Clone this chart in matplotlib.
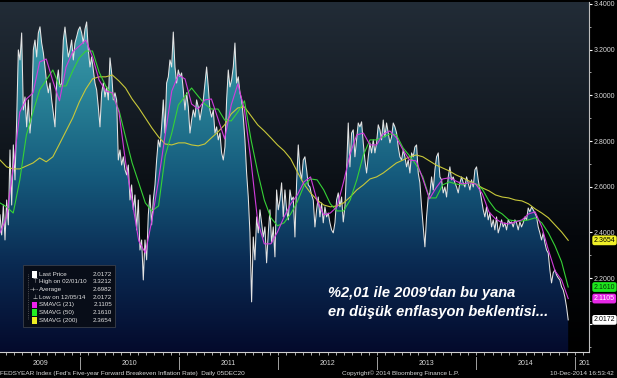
import numpy as np
import matplotlib
matplotlib.use("Agg")
import matplotlib.pyplot as plt
from matplotlib.colors import LinearSegmentedColormap
from matplotlib.patches import Polygon, Rectangle
from matplotlib.transforms import blended_transform_factory


# FEDSYEAR Index. Points are evenly spaced in time
# from mid-March 2009 to 5 Dec 2014 (decimal years).
start_year = 2009.19
end_year = 2014.93

price = [
    2.477, 2.389, 2.520, 2.367, 2.542, 2.433, 2.761, 2.520, 2.783, 2.630, 2.892,
    3.199, 3.155, 3.273, 2.936, 2.993, 2.862, 2.980, 2.835, 2.923, 3.199,
    3.242, 3.168, 3.273, 3.300, 3.229, 3.186, 3.124, 3.054, 3.011, 3.054,
    2.980, 2.923, 2.862, 3.054, 3.111, 3.037, 3.054, 3.242, 3.299, 3.229,
    3.168, 3.199, 3.242, 3.155, 3.229, 3.256, 3.286, 3.300, 3.273, 3.229,
    3.290, 3.3212, 3.199, 3.124, 3.168, 3.111, 3.054, 3.024, 2.949, 2.862,
    3.011, 3.054, 2.993, 3.037, 2.980, 3.164, 3.098, 2.980, 3.011, 2.980,
    2.717, 2.761, 2.695, 2.731, 2.674, 2.652, 2.695, 2.542, 2.608, 2.499,
    2.564, 2.411, 2.542, 2.323, 2.367, 2.192, 2.367, 2.280, 2.477, 2.564,
    2.433, 2.542, 2.608, 2.717, 2.805, 2.774, 2.862, 2.980, 2.835, 3.054,
    3.081, 3.155, 3.124, 3.277, 3.124, 3.054, 3.111, 3.081, 3.098, 3.024,
    2.936, 3.011, 2.949, 2.835, 2.892, 2.936, 2.905, 2.980, 2.949, 2.892,
    2.936, 2.980, 3.054, 3.124, 3.037, 2.936, 2.905, 2.936, 2.835, 2.862,
    2.805, 2.835, 2.748, 2.717, 2.774, 2.980, 3.111, 3.037, 3.067, 3.124,
    3.229, 3.054, 3.081, 3.011, 2.980, 2.905, 2.805, 2.660, 2.555, 2.398,
    2.096, 2.380, 2.280, 2.468, 2.398, 2.499, 2.442, 2.380, 2.424, 2.267,
    2.398, 2.499, 2.354, 2.424, 2.293, 2.586, 2.499, 2.542, 2.617, 2.468,
    2.586, 2.499, 2.455, 2.586, 2.542, 2.555, 2.380, 2.617, 2.783, 2.674,
    2.630, 2.717, 2.731, 2.674, 2.608, 2.599, 2.564, 2.542, 2.424, 2.499,
    2.555, 2.468, 2.529, 2.442, 2.512, 2.468, 2.485, 2.442, 2.411, 2.398,
    2.442, 2.542, 2.573, 2.512, 2.555, 2.446, 2.512, 2.674, 2.879, 2.687,
    2.835, 2.849, 2.731, 2.805, 2.879, 2.862, 2.884, 2.792, 2.717, 2.660,
    2.731, 2.792, 2.748, 2.805, 2.748, 2.792, 2.871, 2.849, 2.805, 2.892,
    2.818, 2.879, 2.835, 2.792, 2.818, 2.879, 2.862, 2.835, 2.774, 2.731,
    2.717, 2.761, 2.731, 2.687, 2.717, 2.660, 2.748, 2.731, 2.774, 2.783,
    2.660, 2.617, 2.512, 2.424, 2.337, 2.468, 2.555, 2.573, 2.643, 2.586,
    2.674, 2.731, 2.748, 2.643, 2.630, 2.573, 2.599, 2.555, 2.643, 2.687,
    2.630, 2.643, 2.617, 2.599, 2.573, 2.617, 2.643, 2.617, 2.599, 2.643,
    2.617, 2.586, 2.630, 2.599, 2.674, 2.687, 2.630, 2.586, 2.542, 2.499,
    2.468, 2.512, 2.455, 2.485, 2.424, 2.455, 2.411, 2.468, 2.398, 2.424,
    2.455, 2.424, 2.442, 2.411, 2.455, 2.442, 2.446, 2.424, 2.455, 2.442,
    2.411, 2.446, 2.424, 2.442, 2.468, 2.455, 2.507, 2.490, 2.512, 2.499,
    2.485, 2.468, 2.424, 2.398, 2.367, 2.398, 2.354, 2.323, 2.310, 2.236,
    2.179, 2.223, 2.236, 2.214, 2.201, 2.192, 2.162, 2.148, 2.118, 2.074, 2.0172,
]

# moving averages on a coarser even grid
sma21 = [
    2.398, 2.468, 2.682, 2.927, 2.984, 3.011, 3.146, 3.159, 3.063, 2.976,
    3.124, 3.190, 3.216, 3.242, 3.168, 3.067, 3.019, 3.011, 2.927, 2.709,
    2.538, 2.363, 2.310, 2.455, 2.630, 2.827, 3.019, 3.089, 3.072, 2.962,
    2.940, 2.980, 2.984, 2.897, 2.809, 2.958, 3.050, 2.936, 2.709, 2.450,
    2.350, 2.350, 2.402, 2.468, 2.525, 2.564, 2.621, 2.643, 2.538, 2.477,
    2.485, 2.512, 2.621, 2.744, 2.827, 2.835, 2.783, 2.783, 2.831, 2.844,
    2.814, 2.761, 2.717, 2.713, 2.634, 2.547, 2.595, 2.634, 2.639, 2.625,
    2.612, 2.617, 2.612, 2.569, 2.490, 2.459, 2.442, 2.437, 2.446, 2.455,
    2.481, 2.490, 2.424, 2.323, 2.232, 2.192, 2.1105,
]

sma50 = [
    2.529, 2.512, 2.485, 2.630, 2.827, 2.927, 3.024, 3.067, 3.111, 3.041,
    3.041, 3.107, 3.164, 3.194, 3.194, 3.102, 3.041, 3.002, 2.936, 2.818,
    2.704, 2.617, 2.529, 2.494, 2.516, 2.735, 2.835, 2.958, 2.996, 3.032,
    2.996, 2.962, 2.940, 2.940, 2.892, 2.888, 2.927, 2.976, 2.805, 2.665,
    2.542, 2.464, 2.429, 2.442, 2.481, 2.534, 2.604, 2.634, 2.630, 2.586,
    2.525, 2.494, 2.494, 2.542, 2.630, 2.739, 2.805, 2.805, 2.818, 2.831,
    2.827, 2.770, 2.735, 2.695, 2.643, 2.551, 2.551, 2.608, 2.621, 2.612,
    2.608, 2.617, 2.612, 2.590, 2.538, 2.499, 2.481, 2.455, 2.450, 2.450,
    2.455, 2.464, 2.442, 2.398, 2.341, 2.271, 2.1610,
]

sma200 = [
    2.717, 2.687, 2.678, 2.678, 2.691, 2.704, 2.726, 2.709, 2.731, 2.787,
    2.844, 2.901, 2.971, 3.028, 3.072, 3.081, 3.081, 3.089, 3.063, 3.032,
    2.984, 2.945, 2.901, 2.857, 2.818, 2.787, 2.783, 2.792, 2.792, 2.783,
    2.779, 2.787, 2.814, 2.840, 2.871, 2.919, 2.945, 2.949, 2.910, 2.871,
    2.844, 2.814, 2.783, 2.757, 2.722, 2.665, 2.612, 2.573, 2.542, 2.520,
    2.512, 2.516, 2.529, 2.555, 2.586, 2.608, 2.634, 2.643, 2.660, 2.682,
    2.704, 2.717, 2.731, 2.739, 2.731, 2.713, 2.695, 2.682, 2.669, 2.652,
    2.639, 2.625, 2.612, 2.595, 2.582, 2.564, 2.555, 2.551, 2.542, 2.538,
    2.525, 2.503, 2.485, 2.464, 2.433, 2.402, 2.3654,
]

year_labels = [2009, 2010, 2011, 2012, 2013, 2014]
y_ticks = [2.0, 2.2, 2.4, 2.6, 2.8, 3.0, 3.2, 3.4]

legend_names = ['Last Price', 'High on 02/01/10', 'Average', 'Low on 12/05/14',
                'SMAVG (21)', 'SMAVG (50)', 'SMAVG (200)']
legend_values = [2.0172, 3.3212, 2.6982, 2.0172, 2.1105, 2.1610, 2.3654]

C_PRICE = '#e4e4e4'
C_21 = '#d23cdc'
C_50 = '#36d236'
C_200 = '#c8c83a'

FONT = 'Liberation Sans'

price_x = np.linspace(start_year, end_year, len(price))
sma21_x = np.linspace(start_year, end_year, len(sma21))
sma50_x = np.linspace(start_year, end_year, len(sma50))
sma200_x = np.linspace(start_year, end_year, len(sma200))

x0, x1 = 2009.19, 2015.14
y0, y1 = 1.877, 3.409

fig = plt.figure(figsize=(6.17, 3.78), dpi=100, facecolor='black')
ax = fig.add_axes([0.0, 0.069, 0.9546, 0.926])
ax.set_xlim(x0, x1)
ax.set_ylim(y0, y1)
ax.set_facecolor('black')

# dark background that fades to black at the bottom
bg_cmap = LinearSegmentedColormap.from_list('bg', ['#000000', '#05080c', '#141b23', '#222c37'])
grad = np.linspace(0, 1, 256).reshape(-1, 1)
ax.imshow(grad, aspect='auto', cmap=bg_cmap, origin='lower',
          extent=[x0, x1, y0, y1], zorder=0)

# teal to navy fill under the price line
area_cmap = LinearSegmentedColormap.from_list(
    'area', ['#040a2c', '#0a2a52', '#155a7c', '#2a8599', '#45a5b2'])
area = ax.imshow(grad, aspect='auto', cmap=area_cmap, origin='lower',
                 extent=[x0, x1, y0, y1], zorder=1)
verts = [(price_x[0], y0)] + list(zip(price_x, price)) + [(price_x[-1], y0)]
clip = Polygon(verts, closed=True, facecolor='none', edgecolor='none')
ax.add_patch(clip)
area.set_clip_path(clip)

ax.plot(price_x, price, color=C_PRICE, lw=0.75, zorder=3)
ax.plot(sma200_x, sma200, color=C_200, lw=0.8, zorder=4)
ax.plot(sma50_x, sma50, color=C_50, lw=0.8, zorder=4)
ax.plot(sma21_x, sma21, color=C_21, lw=0.8, zorder=4)

# right hand axis (2.0000 sits under the last price tag, so no label there)
for s in ['left', 'top']:
    ax.spines[s].set_visible(False)
ax.spines['right'].set_color('#bdbdbd')
ax.spines['right'].set_linewidth(0.8)
ax.spines['bottom'].set_color('#d0d0d0')
ax.spines['bottom'].set_linewidth(0.8)
ax.yaxis.tick_right()
ax.set_yticks(y_ticks)
ax.set_yticklabels(['' if v == 2.0 else '%.4f' % v for v in y_ticks],
                   fontsize=5, color='#d8d8d8', family=FONT)
ax.set_yticks(np.arange(1.9, 3.45, 0.1), minor=True)
ax.tick_params(axis='y', which='major', length=2.5, width=0.8, color='white', pad=1)
ax.tick_params(axis='y', which='minor', length=1.5, width=0.6, color='#bdbdbd')

# monthly ticks along the bottom, no labels
months = np.arange(2009.0, 2015.2, 1 / 12)
months = months[(months > x0) & (months < x1)]
ax.set_xticks(months)
ax.set_xticklabels([])
ax.tick_params(axis='x', length=2, width=0.6, color='#c8c8c8', direction='out')

trans = blended_transform_factory(ax.transData, ax.transAxes)
for yr in year_labels + [2015]:
    if yr > x0:
        ax.plot([yr, yr], [-0.014, -0.05], color='#a0a0a0', lw=0.7,
                transform=trans, clip_on=False)
for yr in year_labels:
    c = (max(yr, x0) + min(yr + 1, x1)) / 2
    ax.text(c, -0.034, str(yr), transform=trans, ha='center', va='center',
            fontsize=5, color='#d8d8d8', family=FONT)
ax.text(2015.035, -0.034, '201', transform=trans, ha='left', va='center',
        fontsize=5, color='#d8d8d8', family=FONT)

# value tags on the right axis
tag_trans = blended_transform_factory(ax.transAxes, ax.transData)
tags = [(sma200[-1], '#f0f028', 'black'), (sma50[-1], '#1ee61e', '#063006'),
        (sma21[-1], '#e628e6', 'white'), (price[-1], 'white', 'black')]
for val, bgc, fgc in tags:
    ax.text(1.008, val, '%.4f' % val, transform=tag_trans, ha='left', va='center',
            fontsize=5, color=fgc, family=FONT, zorder=10, clip_on=False,
            bbox=dict(boxstyle='round,pad=0.2,rounding_size=0.3', fc=bgc, ec='none'))

# legend box
ax.add_patch(Rectangle((0.039, 0.071), 0.157, 0.178, transform=ax.transAxes,
                       facecolor='#080d18', edgecolor='#3a3f4a', lw=0.6, zorder=8))
row_y = 0.222
step = 0.0219
ax.plot([0.047, 0.047], [row_y, row_y - 6 * step], color='#808080', lw=0.5,
        ls=':', transform=ax.transAxes, zorder=9)
marks = ['sq', '⊤', '-+-', '⊥', 'sq', 'sq', 'sq']
mark_cols = ['white', None, None, None, '#ee22ee', '#22ee22', '#eeee22']
for i, (name, val) in enumerate(zip(legend_names, legend_values)):
    yy = row_y - i * step
    if marks[i] == 'sq':
        ax.add_patch(Rectangle((0.0545, yy - 0.0095), 0.0085, 0.019,
                               transform=ax.transAxes, facecolor=mark_cols[i],
                               edgecolor='none', zorder=9))
    else:
        ax.text(0.059, yy, marks[i], transform=ax.transAxes, ha='center',
                va='center', fontsize=4.2, color='#d0d0d0', zorder=9)
    ax.text(0.066, yy, name, transform=ax.transAxes, ha='left', va='center',
            fontsize=4.5, color='#e0e0e0', family=FONT, zorder=9)
    ax.text(0.190, yy, '%.4f' % val, transform=ax.transAxes, ha='right',
            va='center', fontsize=4.5, color='#e0e0e0', family=FONT, zorder=9)

# annotation
ax.text(0.557, 0.156, "%2,01 ile 2009'dan bu yana", transform=ax.transAxes,
        ha='left', va='baseline', fontsize=10.5, color='white', family=FONT,
        fontweight='bold', fontstyle='italic', zorder=9)
ax.text(0.557, 0.102, 'en düşük enflasyon beklentisi...', transform=ax.transAxes,
        ha='left', va='baseline', fontsize=10.5, color='white', family=FONT,
        fontweight='bold', fontstyle='italic', zorder=9)

# footer
fig.text(0.0, 0.013, "FEDSYEAR Index (Fed's Five-year Forward Breakeven Inflation Rate)  Daily 05DEC20",
         ha='left', va='center', fontsize=4.6, color='#d8d8d8', family=FONT)
fig.text(0.649, 0.013, 'Copyright\u00a9 2014 Bloomberg Finance L.P.', ha='center',
         va='center', fontsize=4.6, color='#d8d8d8', family=FONT)
fig.text(0.995, 0.013, '10-Dec-2014 16:53:42', ha='right', va='center',
         fontsize=4.6, color='#d8d8d8', family=FONT)

fig.savefig('out.png', dpi=100, facecolor='black')
